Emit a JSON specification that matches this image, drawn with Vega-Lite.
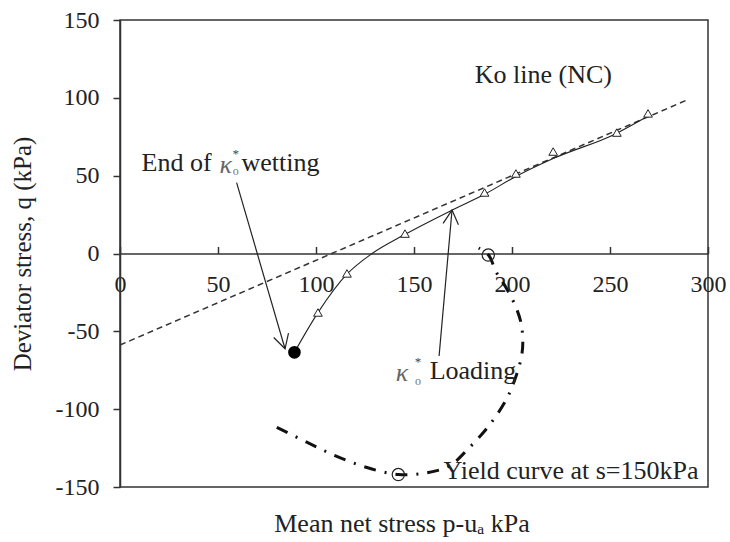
{
  "$schema": "https://vega.github.io/schema/vega-lite/v6.json",
  "width": 588,
  "height": 467,
  "autosize": {"type": "none"},
  "padding": {"left": 120, "top": 20, "right": 22, "bottom": 55},
  "background": "white",
  "title": {"text": "Mean net stress p-uₐ  kPa", "orient": "bottom", "offset": 12, "dx": -12, "font": "Liberation Serif", "fontSize": 26, "fontWeight": "normal", "color": "#222", "anchor": "middle"},
  "config": {
    "view": {"stroke": "#333", "strokeWidth": 1.5},
    "font": "Liberation Serif",
    "axis": {"grid": false, "domainColor": "#333", "tickColor": "#333", "labelColor": "#222", "titleColor": "#222", "labelFont": "Liberation Serif", "titleFont": "Liberation Serif", "labelFontSize": 24, "titleFontSize": 25, "titleFontWeight": "normal", "domainWidth": 1.5, "tickWidth": 1.5}
  },
  "datasets": {
    "ko": [{"p": 0, "q": -58.8}, {"p": 290, "q": 99}],
    "path": [
      {"p": 89, "q": -63.5}, {"p": 101, "q": -38}, {"p": 116, "q": -13}, {"p": 128.6, "q": 0},
      {"p": 145, "q": 12}, {"p": 169, "q": 27.6}, {"p": 186, "q": 38}, {"p": 202, "q": 49.5},
      {"p": 221, "q": 61}, {"p": 253, "q": 77}, {"p": 269, "q": 88}
    ],
    "tri": [
      {"p": 101, "q": -37.9}, {"p": 115.8, "q": -12.8}, {"p": 145.4, "q": 12.8}, {"p": 186, "q": 39.2},
      {"p": 202, "q": 51.4}, {"p": 221, "q": 65.5}, {"p": 253.5, "q": 77.7}, {"p": 269.4, "q": 90}
    ],
    "dot": [{"p": 89, "q": -63.5}],
    "open": [{"p": 142, "q": -142}, {"p": 187.9, "q": -1}],
    "yield": [
      {"i": 1, "p": 80, "q": -111.7}, {"i": 2, "p": 95, "q": -121}, {"i": 3, "p": 110, "q": -130},
      {"i": 4, "p": 126, "q": -137.5}, {"i": 5, "p": 142, "q": -142}, {"i": 6, "p": 156, "q": -141},
      {"i": 7, "p": 168, "q": -136.5}, {"i": 8, "p": 178, "q": -125}, {"i": 9, "p": 188, "q": -111},
      {"i": 10, "p": 197, "q": -94}, {"i": 11, "p": 202, "q": -79}, {"i": 12, "p": 205, "q": -65},
      {"i": 13, "p": 205.5, "q": -55}, {"i": 14, "p": 204.5, "q": -44}, {"i": 15, "p": 201.5, "q": -33},
      {"i": 16, "p": 197, "q": -22}, {"i": 17, "p": 192, "q": -12}, {"i": 18, "p": 188, "q": -1},
      {"i": 19, "p": 183, "q": 3.5}
    ],
    "arrows": [
      {"id": "wet", "p": 59.5, "q": 45.5}, {"id": "wet", "p": 84.2, "q": -61.2},
      {"id": "load", "p": 162.8, "q": -65.8}, {"id": "load", "p": 169.4, "q": 27.9}
    ],
    "headWet": [{"p": 84.2, "q": -61.2}],
    "headLoad": [{"p": 169.4, "q": 27.9}],
    "texts": [
      {"t": "End of", "p": 11, "q": 58},
      {"t": "wetting", "p": 62, "q": 58},
      {"t": "Loading", "p": 158, "q": -75.8},
      {"t": "Ko line (NC)", "p": 181, "q": 114.6},
      {"t": "Yield curve at s=150kPa", "p": 165, "q": -139.7}
    ],
    "kappa": [{"t": "κ", "p": 54, "q": 57}, {"t": "κ", "p": 143.9, "q": -77}],
    "sup": [{"t": "*", "p": 59, "q": 64}, {"t": "*", "p": 152, "q": -70}],
    "sub": [{"t": "o", "p": 59, "q": 53}, {"t": "o", "p": 152, "q": -82}]
  },
  "encoding": {
    "x": {"field": "p", "type": "quantitative", "scale": {"domain": [0, 300], "nice": false, "zero": false},
      "axis": {"values": [0, 50, 100, 150, 200, 250, 300], "offset": -233.5, "tickSize": -7, "labelPadding": 26, "title": null, "labelFlush": false, "labelOverlap": false, "labelBaseline": "top"}},
    "y": {"field": "q", "type": "quantitative", "scale": {"domain": [-150, 150], "nice": false, "zero": false},
      "axis": {"values": [-150, -100, -50, 0, 50, 100, 150], "tickSize": 7, "labelPadding": 14, "title": "Deviator stress, q (kPa)", "titlePadding": 20, "labelExpr": "toString(datum.value)", "labelFlush": false, "labelOverlap": false}}
  },
  "layer": [
    {"data": {"name": "ko"}, "mark": {"type": "line", "color": "#333", "strokeWidth": 1.5, "strokeDash": [6, 4]}},
    {"data": {"name": "path"}, "mark": {"type": "line", "color": "#222", "strokeWidth": 1.1, "interpolate": "monotone"}},
    {"data": {"name": "yield"}, "mark": {"type": "line", "color": "#111", "strokeWidth": 3, "strokeDash": [12, 9, 2, 9], "interpolate": "catmull-rom"}, "encoding": {"order": {"field": "i", "type": "quantitative"}}},
    {"data": {"name": "arrows"}, "mark": {"type": "line", "color": "#222", "strokeWidth": 1.2}, "encoding": {"detail": {"field": "id", "type": "nominal"}}},
    {"data": {"name": "headWet"}, "mark": {"type": "point", "shape": "M-0.55,1L0,0L0.55,1", "size": 784, "angle": 163.7, "filled": false, "stroke": "#222", "strokeWidth": 1.2, "opacity": 1}},
    {"data": {"name": "headLoad"}, "mark": {"type": "point", "shape": "M-0.55,1L0,0L0.55,1", "size": 784, "angle": 5.1, "filled": false, "stroke": "#222", "strokeWidth": 1.2, "opacity": 1}},
    {"data": {"name": "tri"}, "mark": {"type": "point", "shape": "triangle-up", "size": 75, "filled": true, "fill": "white", "stroke": "#222", "strokeWidth": 1, "opacity": 1}},
    {"data": {"name": "dot"}, "mark": {"type": "point", "shape": "circle", "size": 160, "filled": true, "color": "#000", "opacity": 1}},
    {"data": {"name": "open"}, "mark": {"type": "point", "shape": "circle", "size": 150, "filled": false, "stroke": "#222", "strokeWidth": 1.2, "opacity": 1}},
    {"data": {"name": "texts"}, "mark": {"type": "text", "align": "left", "baseline": "middle", "font": "Liberation Serif", "fontSize": 26, "color": "#222"}, "encoding": {"text": {"field": "t"}}},
    {"data": {"name": "kappa"}, "mark": {"type": "text", "align": "center", "baseline": "middle", "font": "Liberation Serif", "fontSize": 26, "fontStyle": "italic", "color": "#666"}, "encoding": {"text": {"field": "t"}}},
    {"data": {"name": "sup"}, "mark": {"type": "text", "align": "center", "baseline": "middle", "font": "Liberation Serif", "fontSize": 13, "color": "#444"}, "encoding": {"text": {"field": "t"}}},
    {"data": {"name": "sub"}, "mark": {"type": "text", "align": "center", "baseline": "middle", "font": "Liberation Serif", "fontSize": 12, "color": "#777"}, "encoding": {"text": {"field": "t"}}}
  ]
}
